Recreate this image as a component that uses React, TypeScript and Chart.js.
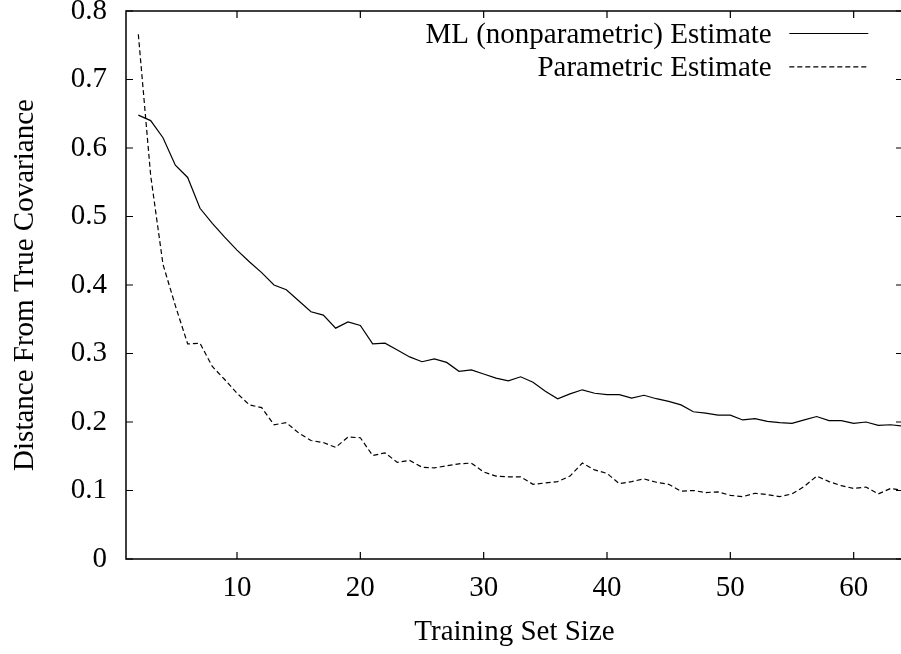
import React, { useEffect, useRef } from "react";
import { Chart, registerables } from "chart.js";

Chart.register(...registerables);

// ---- data ----
const trainingSizes = [
  2, 3, 4, 5, 6, 7, 8, 9, 10, 11, 12, 13, 14, 15, 16, 17, 18, 19, 20, 21, 22, 23,
  24, 25, 26, 27, 28, 29, 30, 31, 32, 33, 34, 35, 36, 37, 38, 39, 40, 41, 42, 43,
  44, 45, 46, 47, 48, 49, 50, 51, 52, 53, 54, 55, 56, 57, 58, 59, 60, 61, 62, 63, 64,
];

const mlEstimate = [
  0.648, 0.640, 0.615, 0.575, 0.557, 0.512, 0.490, 0.470, 0.451, 0.434, 0.418,
  0.400, 0.393, 0.377, 0.361, 0.356, 0.337, 0.346, 0.341, 0.314, 0.315, 0.305,
  0.295, 0.288, 0.292, 0.287, 0.274, 0.276, 0.270, 0.264, 0.260, 0.266, 0.258,
  0.245, 0.234, 0.241, 0.247, 0.242, 0.240, 0.240, 0.235, 0.239, 0.234, 0.230,
  0.225, 0.215, 0.213, 0.210, 0.210, 0.203, 0.205, 0.201, 0.199, 0.198, 0.203,
  0.208, 0.202, 0.202, 0.198, 0.200, 0.195, 0.196, 0.194,
];

const parametricEstimate = [
  0.766, 0.560, 0.430, 0.370, 0.314, 0.315, 0.281, 0.262, 0.242, 0.225, 0.221,
  0.196, 0.199, 0.184, 0.173, 0.170, 0.163, 0.178, 0.177, 0.151, 0.155, 0.141,
  0.144, 0.134, 0.133, 0.136, 0.139, 0.140, 0.127, 0.121, 0.120, 0.120, 0.109,
  0.111, 0.113, 0.121, 0.140, 0.130, 0.125, 0.110, 0.113, 0.117, 0.112, 0.109,
  0.099, 0.100, 0.097, 0.098, 0.093, 0.091, 0.096, 0.094, 0.091, 0.095, 0.106,
  0.121, 0.113, 0.107, 0.103, 0.105, 0.095, 0.103, 0.100,
];

const seriesLabels = ["ML (nonparametric) Estimate", "Parametric Estimate"];
const xTickValues = [10, 20, 30, 40, 50, 60];
const yTickValues = [0, 0.1, 0.2, 0.3, 0.4, 0.5, 0.6, 0.7, 0.8];
const xAxisTitle = "Training Set Size";
const yAxisTitle = "Distance From True Covariance";

const FAMILY = "'Liberation Serif', 'Times New Roman', serif";
const FONT_SIZE = 29;

const framePlugin = {
  id: "gnuplotFrame",
  afterDatasetsDraw(chart: any) {
    const { ctx, chartArea, scales } = chart;
    const { left, right, top, bottom } = chartArea;
    ctx.save();
    ctx.strokeStyle = "#000";
    ctx.lineWidth = 1.5;
    ctx.setLineDash([]);
    ctx.strokeRect(left, top, right - left, bottom - top);
    ctx.lineWidth = 1.2;
    ctx.beginPath();
    for (const v of xTickValues) {
      const px = scales.x.getPixelForValue(v);
      ctx.moveTo(px, bottom);
      ctx.lineTo(px, bottom - 7);
      ctx.moveTo(px, top);
      ctx.lineTo(px, top + 7);
    }
    for (const v of yTickValues) {
      const py = scales.y.getPixelForValue(v);
      ctx.moveTo(left, py);
      ctx.lineTo(left + 7, py);
      ctx.moveTo(right, py);
      ctx.lineTo(right - 7, py);
    }
    ctx.stroke();
    ctx.restore();
  },
};

const keyPlugin = {
  id: "gnuplotKey",
  afterDraw(chart: any) {
    const { ctx, chartArea } = chart;
    const textRight = chartArea.right - 131.3;
    const sampleStart = chartArea.right - 113.7;
    const sampleEnd = chartArea.right - 34.7;
    chart.data.datasets.forEach((ds: any, i: number) => {
      const cy = chartArea.top + 23 + i * 33.3;
      ctx.save();
      ctx.font = `${FONT_SIZE}px ${FAMILY}`;
      ctx.fillStyle = "#000";
      ctx.textAlign = "right";
      ctx.textBaseline = "middle";
      ctx.fillText(ds.label, textRight, cy + 1);
      ctx.strokeStyle = ds.borderColor;
      ctx.lineWidth = ds.borderWidth;
      ctx.setLineDash(ds.borderDash || []);
      ctx.beginPath();
      ctx.moveTo(sampleStart, cy - 0.5);
      ctx.lineTo(sampleEnd, cy - 0.5);
      ctx.stroke();
      ctx.restore();
    });
  },
};

export default function App() {
  const canvasRef = useRef<HTMLCanvasElement | null>(null);

  useEffect(() => {
    if (!canvasRef.current) return;
    const font = { family: FAMILY, size: FONT_SIZE };
    const chart = new Chart(canvasRef.current, {
      type: "line",
      data: {
        datasets: [
          {
            label: seriesLabels[0],
            data: trainingSizes.map((x, i) => ({ x, y: mlEstimate[i] })),
            borderColor: "#000",
            borderWidth: 1.2,
            pointRadius: 0,
            tension: 0,
            fill: false,
          },
          {
            label: seriesLabels[1],
            data: trainingSizes.map((x, i) => ({ x, y: parametricEstimate[i] })),
            borderColor: "#000",
            borderWidth: 1.2,
            borderDash: [5, 3],
            pointRadius: 0,
            tension: 0,
            fill: false,
          },
        ],
      },
      options: {
        responsive: false,
        animation: false,
        layout: { padding: { left: 0, top: 11, right: 3, bottom: 0 } },
        plugins: {
          legend: { display: false },
          tooltip: { enabled: false },
        },
        scales: {
          x: {
            type: "linear",
            min: 1,
            max: 64,
            afterBuildTicks: (s: any) => {
              s.ticks = xTickValues.map((v) => ({ value: v }));
            },
            afterFit: (s: any) => {
              s.height = 95;
              s.paddingLeft = 0;
              s.paddingRight = 0;
            },
            grid: { display: false, drawTicks: false },
            border: { display: false },
            ticks: {
              font,
              color: "#000",
              padding: 12,
              maxRotation: 0,
              autoSkip: false,
              callback: (v: any) => String(v),
            },
            title: {
              display: true,
              text: xAxisTitle,
              font,
              color: "#000",
              padding: { top: 0, bottom: 4 },
            },
          },
          y: {
            type: "linear",
            min: 0,
            max: 0.8,
            afterBuildTicks: (s: any) => {
              s.ticks = yTickValues.map((v) => ({ value: v }));
            },
            afterFit: (s: any) => {
              s.width = 126;
              s.paddingTop = 0;
              s.paddingBottom = 0;
            },
            grid: { display: false, drawTicks: false },
            border: { display: false },
            ticks: {
              font,
              color: "#000",
              padding: 19,
              autoSkip: false,
              callback: (v: any) => String(v),
            },
            title: {
              display: true,
              text: yAxisTitle,
              font,
              color: "#000",
              padding: { top: 8, bottom: 0 },
            },
          },
        },
      },
      plugins: [framePlugin, keyPlugin],
    } as any);
    return () => chart.destroy();
  }, []);

  return (
    <div
      style={{
        position: "absolute",
        left: 0,
        top: 0,
        width: 901,
        height: 654,
        overflow: "hidden",
        background: "#fff",
      }}
    >
      <canvas
        ref={canvasRef}
        width={906}
        height={654}
        style={{ display: "block", width: 906, height: 654 }}
      />
    </div>
  );
}
